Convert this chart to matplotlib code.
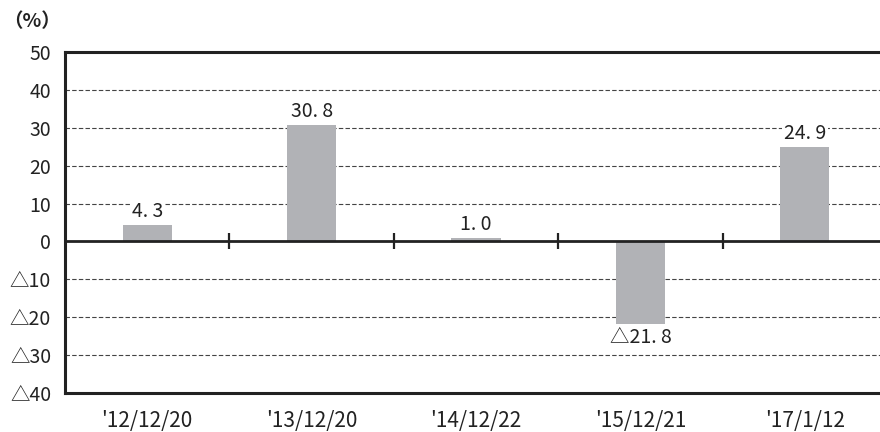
import matplotlib
matplotlib.use("Agg")
import matplotlib.pyplot as plt
import numpy as np

categories = ["'12/12/20", "'13/12/20", "'14/12/22", "'15/12/21", "'17/1/12"]
values = [4.3, 30.8, 1.0, -21.8, 24.9]
yticks = [50, 40, 30, 20, 10, 0, -10, -20, -30, -40]

plt.rcParams['font.family'] = ['Noto Sans CJK JP', 'DejaVu Sans']

def fmt_tick(v):
    return f"△{abs(v)}" if v < 0 else f"{v}"

def fmt_label(v):
    s = f"{abs(v):.1f}".replace(".", ". ")
    return ("△" + s) if v < 0 else s

fig = plt.figure(figsize=(8.8, 4.32), dpi=100)
ax = fig.add_axes([65/880, 1-393/432, (887-65)/880, (393-52)/432])

x = np.arange(len(categories))
ax.set_xlim(-0.5, len(categories) - 0.5)
ax.set_ylim(-40, 50)

for yv in yticks:
    if yv not in (0, 50, -40):
        ax.axhline(yv, color='#444444', lw=0.8, ls=(0, (4, 2)), zorder=1)

ax.bar(x, values, width=0.30, color='#b1b2b6', zorder=2)

ax.axhline(0, color='#222222', lw=2.0, zorder=3)
ax.plot(x[:-1] + 0.5, np.zeros(len(categories) - 1), ls='none', marker='|',
        ms=12, mew=1.6, color='#222222', zorder=3)

for xi, v in zip(x, values):
    if v >= 0:
        ax.annotate(fmt_label(v), (xi, v), xytext=(0, 2), textcoords='offset points',
                    ha='center', va='bottom', fontsize=14, color='#222222', zorder=4,
                    bbox=dict(boxstyle='square,pad=0.1', fc='white', ec='none'))
    else:
        ax.annotate(fmt_label(v), (xi, v), xytext=(0, -2), textcoords='offset points',
                    ha='center', va='top', fontsize=14, color='#222222', zorder=4,
                    bbox=dict(boxstyle='square,pad=0.1', fc='white', ec='none'))

ax.set_yticks(yticks)
ax.set_yticklabels([fmt_tick(v) for v in yticks], fontsize=14, color='#222222')
ax.set_xticks(x)
ax.set_xticklabels(categories, fontsize=15, color='#222222')
ax.tick_params(axis='both', length=0)
ax.tick_params(axis='y', pad=10)
ax.tick_params(axis='x', pad=12)

for side in ['left', 'top', 'bottom']:
    ax.spines[side].set_linewidth(2.2)
    ax.spines[side].set_color('#222222')
ax.spines['right'].set_visible(False)

fig.text(3/880, 1-22/432, "（%）", fontsize=14, fontweight='bold', ha='left', va='center', color='#222222')

fig.savefig("out.png", dpi=100)
